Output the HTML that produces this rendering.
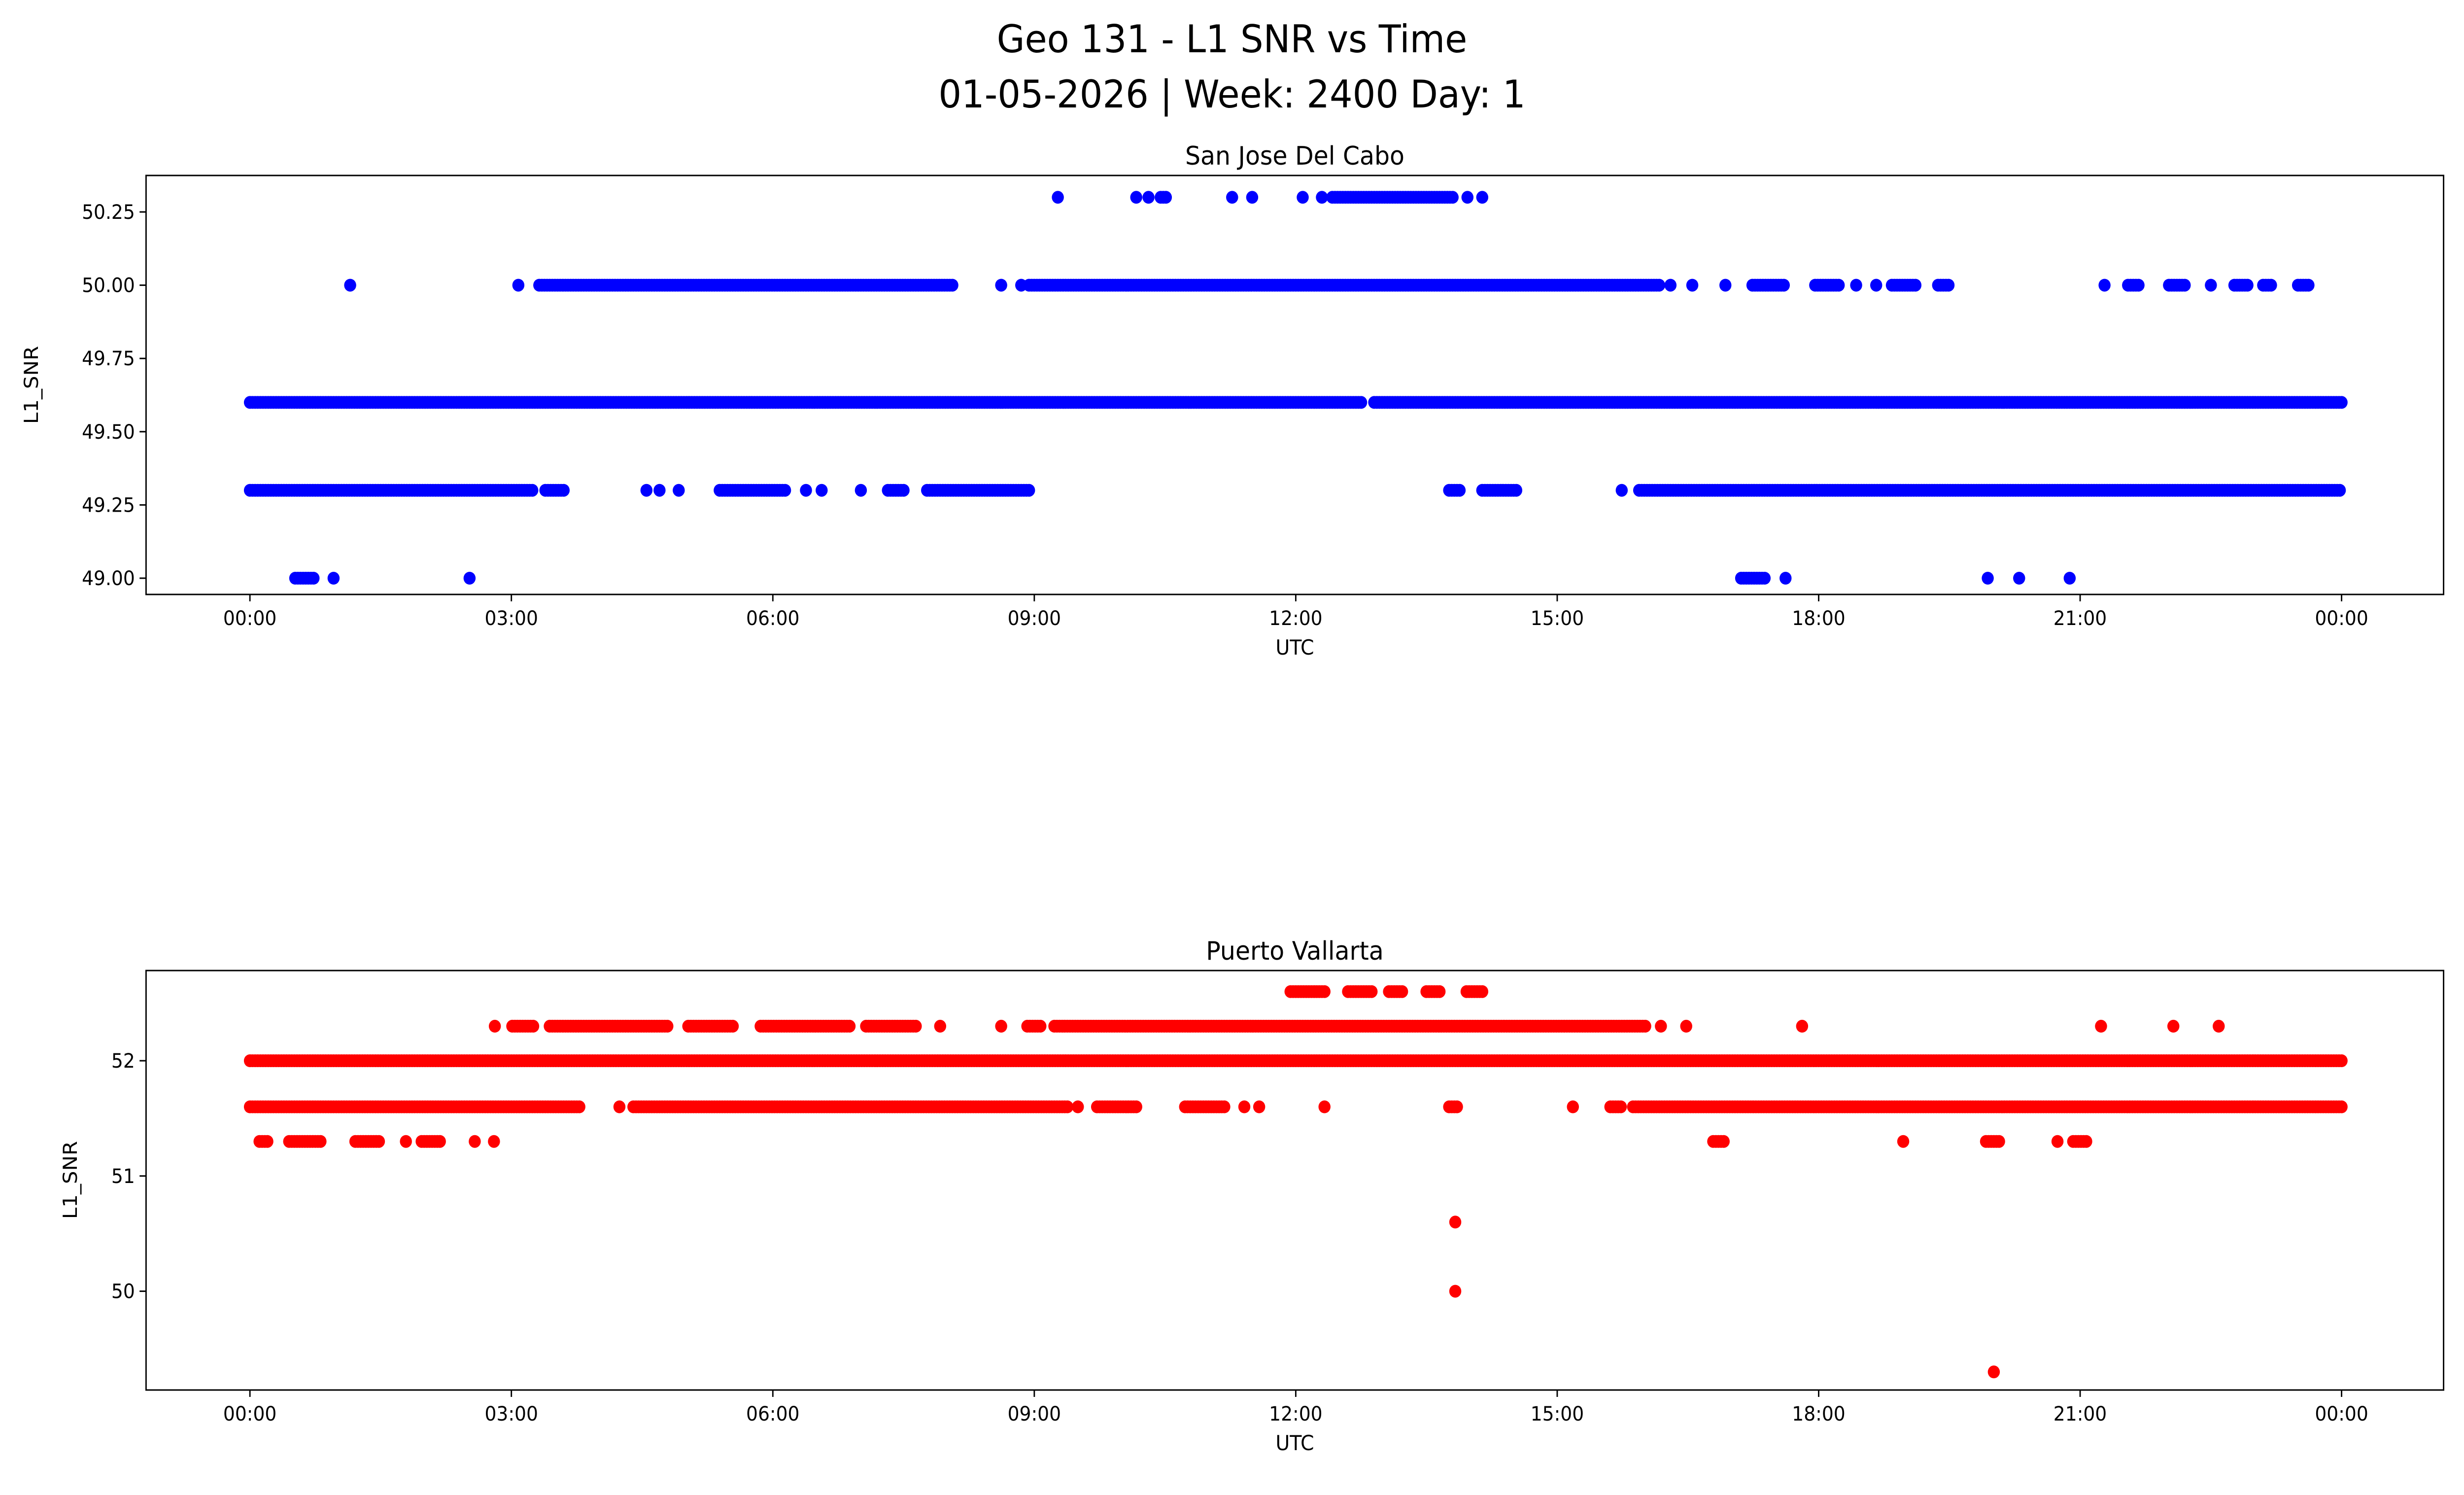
<!DOCTYPE html>
<html><head><meta charset="utf-8"><style>
html,body{margin:0;padding:0;background:#fff;overflow:hidden;width:100vw;height:100vh}
svg{display:block;width:100vw;height:100vh;font-family:"DejaVu Sans","Liberation Sans",sans-serif}
</style></head><body>
<svg id="fig" viewBox="0 0 5314 3033" preserveAspectRatio="none" xmlns="http://www.w3.org/2000/svg">
<text x="2657" y="106" font-size="78" text-anchor="middle">Geo 131 - L1 SNR vs Time</text>
<text x="2657" y="218" font-size="78" text-anchor="middle">01-05-2026 | Week: 2400 Day: 1</text>
<g id="p1"></g>
<g id="p2"></g>
</svg>
<script>
// x tick labels (hours)
const xTickHours=[0,3,6,9,12,15,18,21,24];
const xTickLabels=["00:00","03:00","06:00","09:00","12:00","15:00","18:00","21:00","00:00"];
// San Jose Del Cabo: level values and time runs [start,end] in hours
const sjLevels=[50.3,50.0,49.6,49.3,49.0];
const sjRuns=[
 [[9.27,9.27],[10.17,10.17],[10.31,10.31],[10.45,10.51],[11.27,11.27],[11.5,11.5],[12.08,12.08],[12.3,12.3],[12.42,13.81],[13.97,13.97],[14.14,14.14]],
 [[1.15,1.15],[3.08,3.08],[3.32,8.06],[8.62,8.62],[8.85,8.85],[8.94,16.19],[16.3,16.3],[16.55,16.55],[16.93,16.93],[17.24,17.6],[17.96,18.23],[18.43,18.43],[18.66,18.66],[18.84,19.13],[19.37,19.5],[21.28,21.28],[21.55,21.69],[22.02,22.2],[22.5,22.5],[22.77,22.92],[23.1,23.2],[23.5,23.64]],
 [[0,12.75],[12.9,24]],
 [[0,3.26],[3.39,3.62],[4.55,4.55],[4.7,4.7],[4.92,4.92],[5.39,6.15],[6.38,6.38],[6.56,6.56],[7.01,7.01],[7.32,7.5],[7.77,8.94],[13.76,13.9],[14.14,14.55],[15.74,15.74],[15.94,24]],
 [[0.52,0.74],[0.96,0.96],[2.52,2.52],[17.11,17.38],[17.62,17.62],[19.94,19.94],[20.3,20.3],[20.88,20.88]]
];
const sjTicks=[49.0,49.25,49.5,49.75,50.0,50.25];
const sjTickLabels=["49.00","49.25","49.50","49.75","50.00","50.25"];
// Puerto Vallarta
const pvLevels=[52.6,52.3,52.0,51.6,51.3,50.6,50.0,49.3];
const pvRuns=[
 [[11.94,12.35],[12.6,12.89],[13.07,13.23],[13.5,13.67],[13.96,14.14]],
 [[2.81,2.81],[3.01,3.26],[3.44,4.8],[5.03,5.55],[5.86,6.9],[7.07,7.65],[7.92,7.92],[8.62,8.62],[8.92,9.07],[9.23,16.01],[16.19,16.19],[16.48,16.48],[17.81,17.81],[21.24,21.24],[22.07,22.07],[22.59,22.59]],
 [[0,24]],
 [[0,3.8],[4.24,4.24],[4.4,9.39],[9.5,9.5],[9.72,10.19],[10.73,11.2],[11.41,11.41],[11.58,11.58],[12.33,12.33],[13.76,13.85],[15.18,15.18],[15.61,15.74],[15.87,24]],
 [[0.11,0.2],[0.45,0.81],[1.21,1.48],[1.79,1.79],[1.97,2.2],[2.58,2.58],[2.8,2.8],[16.79,16.93],[18.97,18.97],[19.92,20.07],[20.74,20.74],[20.92,21.08]],
 [[13.83,13.83]],
 [[13.83,13.83]],
 [[20.01,20.01]]
];
const pvTicks=[50,51,52];
const pvTickLabels=["50","51","52"];

const NS="http://www.w3.org/2000/svg";
const AX_L=315,AX_R=5270;
const xs=h=>539+h*(4511/24);
function el(p,t,a){const e=document.createElementNS(NS,t);for(const k in a)e.setAttribute(k,a[k]);p.appendChild(e);return e;}
function panel(g,top,bot,yf,levels,runs,ticks,tlabels,color,title){
  for(let i=0;i<levels.length;i++){
    for(const r of runs[i]){
      const pts=[];
      if(r[1]-r[0]<0.001)pts.push(r[0]);else for(let h=r[0];h<=r[1]+1e-9;h+=0.03)pts.push(h);
      for(const h of pts){
        const c=el(g,'circle',{cx:xs(h).toFixed(1),cy:yf(levels[i]).toFixed(1),r:13,fill:color});
        
        
      }
    }
  }
  const fr=el(g,'rect',{x:AX_L,y:top,width:AX_R-AX_L,height:bot-top,fill:'none',stroke:'#000','stroke-width':3});
  
  
  for(let i=0;i<xTickHours.length;i++){
    const x=xs(xTickHours[i]);
    el(g,'line',{x1:x,x2:x,y1:bot,y2:bot+14,stroke:'#000','stroke-width':3});
    const t=el(g,'text',{x:x,y:bot+62,'font-size':40,'text-anchor':'middle'});t.textContent=xTickLabels[i];
    
    
  }
  for(let i=0;i<ticks.length;i++){
    const y=yf(ticks[i]);
    el(g,'line',{x1:AX_L-14,x2:AX_L,y1:y,y2:y,stroke:'#000','stroke-width':3});
    const t=el(g,'text',{x:AX_L-24,y:y+14,'font-size':40,'text-anchor':'end'});t.textContent=tlabels[i];
    
    
  }
  const xl=el(g,'text',{x:(AX_L+AX_R)/2,y:bot+122,'font-size':42,'text-anchor':'middle'});xl.textContent='UTC';
  
  
  const tt=el(g,'text',{x:(AX_L+AX_R)/2,y:top-22,'font-size':52,'text-anchor':'middle'});tt.textContent=title;
  
  
  return g;
}
const p1=panel(document.getElementById('p1'),356,1206,v=>1173-(v-49)*594.4,sjLevels,sjRuns,sjTicks,sjTickLabels,'#0000ff','San Jose Del Cabo');
const yl1=el(p1,'text',{x:0,y:0,'font-size':42,'text-anchor':'middle',transform:'translate(82,781) rotate(-90)'});yl1.textContent='L1_SNR';


const p2=panel(document.getElementById('p2'),1969,2820,v=>2152-(v-52)*233.8,pvLevels,pvRuns,pvTicks,pvTickLabels,'#ff0000','Puerto Vallarta');
const yl2=el(p2,'text',{x:0,y:0,'font-size':42,'text-anchor':'middle',transform:'translate(166,2394) rotate(-90)'});yl2.textContent='L1_SNR';


</script>
</body></html>
